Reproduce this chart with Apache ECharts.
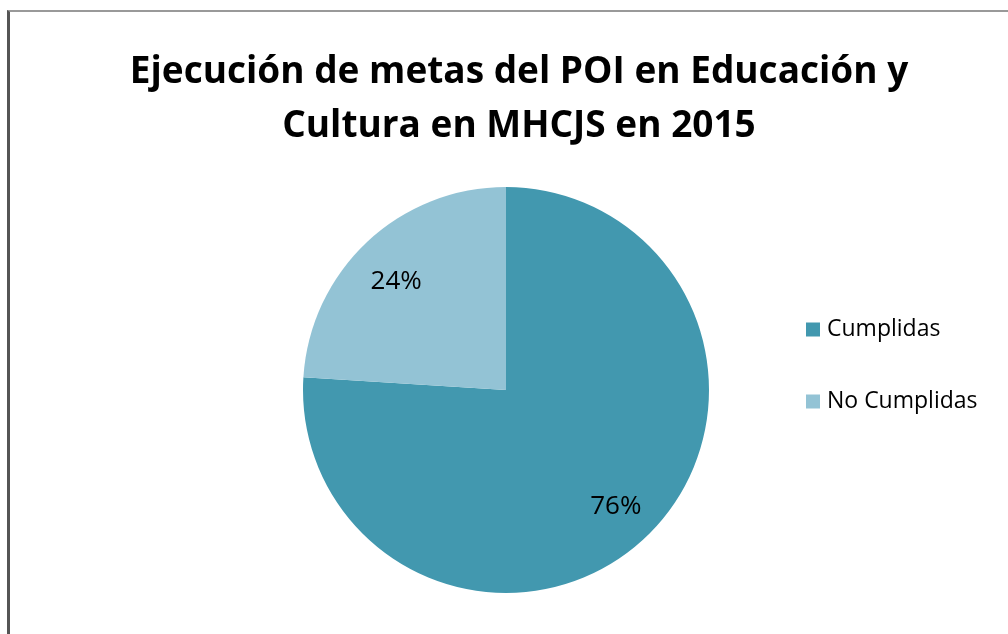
<!DOCTYPE html>
<html><head><meta charset="utf-8">
<script src="https://cdn.jsdelivr.net/npm/echarts@6/dist/echarts.min.js"></script>
<style>
html,body{margin:0;padding:0;background:#fff;}
#frame{position:absolute;left:7px;top:10px;width:1001px;height:624px;border-left:3px solid #555;border-top:2px solid #999;box-sizing:border-box;}
#chart{position:absolute;left:0;top:0;width:1008px;height:634px;}
</style></head>
<body>
<div id="frame"></div>
<div id="chart"></div>
<script>
const titleText = 'Ejecución de metas del POI en Educación y\nCultura en MHCJS en 2015';
const categories = ['Cumplidas', 'No Cumplidas'];
const values = [76, 24];
const colors = ['#4298AF', '#93C3D5'];

const chart = echarts.init(document.getElementById('chart'), null, {renderer: 'canvas'});
const data = categories.map((c, i) => ({name: c, value: values[i], itemStyle: {color: colors[i]}}));
chart.setOption({
  backgroundColor: 'transparent',
  animation: false,
  title: {
    text: titleText,
    left: 514, top: 40, textAlign: 'center',
    textStyle: {fontFamily: 'Open Sans', fontWeight: 'bold', fontSize: 37, lineHeight: 54, color: '#000'}
  },
  legend: {
    orient: 'vertical', left: 806, top: 318, padding: 0,
    itemWidth: 14, itemHeight: 14, itemGap: 49, icon: 'rect',
    data: categories,
    textStyle: {fontFamily: 'Open Sans', fontSize: 23, color: '#000', padding: [0,0,0,2]}
  },
  series: [
    {
      type: 'pie', center: [506, 390], radius: [0, 203],
      startAngle: 90, clockwise: true, silent: true,
      label: {show: false}, labelLine: {show: false},
      itemStyle: {borderWidth: 0},
      data: data
    },
    {
      type: 'pie', center: [506, 390], radius: [112, 203],
      startAngle: 90, clockwise: true, silent: true,
      itemStyle: {color: 'rgba(0,0,0,0)', borderWidth: 0},
      label: {show: true, position: 'inside', lineHeight: 18,
        formatter: p => (p.dataIndex === 1 ? '\n' : '') + Math.round(p.percent) + '%',
        fontFamily: 'Open Sans', fontSize: 26, color: '#000'},
      labelLine: {show: false},
      data: categories.map((c, i) => ({name: c, value: values[i]}))
    }
  ]
});
</script>
</body></html>
